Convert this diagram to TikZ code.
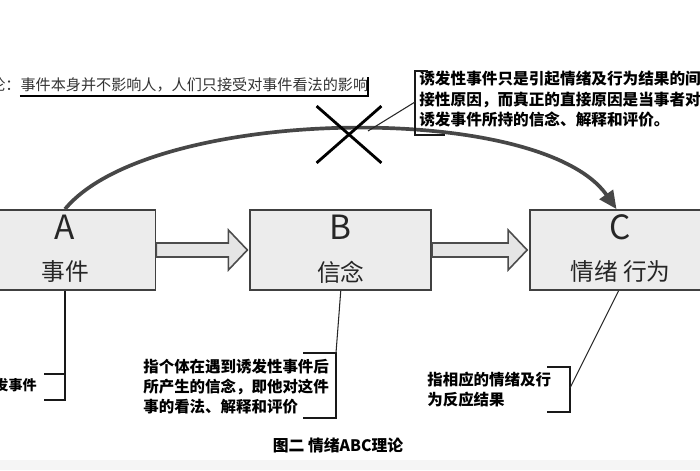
\documentclass[tikz,border=0pt]{standalone}
\usepackage{fontspec}
\setmainfont{Noto Sans CJK SC}
\usetikzlibrary{arrows.meta,positioning,calc,shapes.misc}

\begin{document}
\begin{tikzpicture}[
        blk/.style={draw=black!75, fill=gray!15, line width=1pt,
                    minimum width=3.62cm, minimum height=1.6cm},
        lett/.style={font=\fontsize{19}{22}\selectfont, text=black!85},
        word/.style={font=\fontsize{13.5}{16}\selectfont, text=black!85},
        fat/.style={draw=black!70, fill=gray!20, line width=0.9pt, line join=miter},
        note/.style={font=\bfseries\fontsize{8.8}{11.4}\selectfont, align=left, inner sep=0pt},
        brk/.style={line width=1pt, black!90},
        lead/.style={line width=0.6pt, black!85}
    ]
        \useasboundingbox (0,0) rectangle (14,9.4);
        \clip (0,0) rectangle (14,9.4);
        \fill[gray!8] (0,0) rectangle (14,0.2);

        \node[blk] (a) at (1.3,4.4) {};
        \node[blk, right=1.86cm of a] (b) {};
        \node[blk, right=1.94cm of b] (c) {};

        \node[lett] (la) at ([yshift=0.45cm]a.center) {A};
        \node[word] (wa) at ([yshift=-0.44cm]a.center) {事件};
        \node[lett] (lb) at ([yshift=0.45cm]b.center) {B};
        \node[word] (wb) at ([yshift=-0.44cm]b.center) {信念};
        \node[lett] (lc) at ([yshift=0.45cm]c.center) {C};
        \node[word] (wc) at ([yshift=-0.44cm]c.center) {情绪 行为};

        \foreach \s/\t in {a/b,b/c}
            \draw[fat] ($(\s.east)+(0,0.14)$) -- ($(\t.west)+(-0.42,0.14)$)
                -- ($(\t.west)+(-0.42,0.4)$) -- ($(\t.west)+(-0.04,0)$)
                -- ($(\t.west)+(-0.42,-0.4)$) -- ($(\t.west)+(-0.42,-0.14)$)
                -- ($(\s.east)+(0,-0.14)$) -- cycle;

        \draw[black!72, line width=2.1pt, -{Triangle[length=0.36cm,width=0.32cm]}]
            (a.north) .. controls (3.0,7.28) and (10.8,7.4) .. ([xshift=-0.08cm]c.north);
        \node[draw, cross out, line width=1.6pt, minimum width=1.24cm,
              minimum height=1.08cm, inner sep=0pt] (nox) at (6.98,6.71) {};

        \node[font=\fontsize{8.6}{10}\selectfont, text=black!80, anchor=west, inner sep=0pt]
            (nlaw) at (-0.2,7.7) {论：事件本身并不影响人，人们只接受对事件看法的影响};
        \draw[line width=1.2pt] (0.4,7.48) -- (7.36,7.48) -- (7.36,7.86);

        \node[note, font=\bfseries\fontsize{8.9}{11.6}\selectfont, anchor=north west] (ntop) at (8.38,7.98)
            {诱发性事件只是引起情绪及行为结果的间\\接性原因，而真正的直接原因是当事者对\\诱发事件所持的信念、解释和评价。};
        \draw[brk] (8.56,7.98) -- (8.3,7.98) -- (8.3,6.7) -- (8.9,6.7);
        \draw[lead] (8.3,7.36) -- (7.36,6.78);

        \node[note, font=\bfseries\fontsize{8}{9}\selectfont, anchor=east] (na) at (0.74,1.7) {发事件};
        \draw[brk] (a.south) |- (0.88,1.4);
        \draw[brk] (1.3,1.92) -- (0.88,1.92);

        \node[note, anchor=north west] (nb) at (2.86,2.22)
            {指个体在遇到诱发性事件后\\所产生的信念，即他对这件\\事的看法、解释和评价};
        \draw[brk] (6.06,2.34) -- (6.72,2.34) -- (6.72,1.04) -- (6.06,1.04);
        \draw[lead] (b.south) -- (6.72,2.34);

        \node[note, anchor=north west] (nc) at (8.54,1.96) {指相应的情绪及行\\为反应结果};
        \draw[brk] (10.94,2.06) -- (11.4,2.06) -- (11.4,1.16) -- (10.94,1.16);
        \draw[lead] ([xshift=-0.04cm]c.south) -- (11.4,1.64);

        \node[font=\bfseries\fontsize{9}{11}\selectfont] (cap) at (6.76,0.5) {图二 情绪ABC理论};
    \end{tikzpicture}
\end{document}
